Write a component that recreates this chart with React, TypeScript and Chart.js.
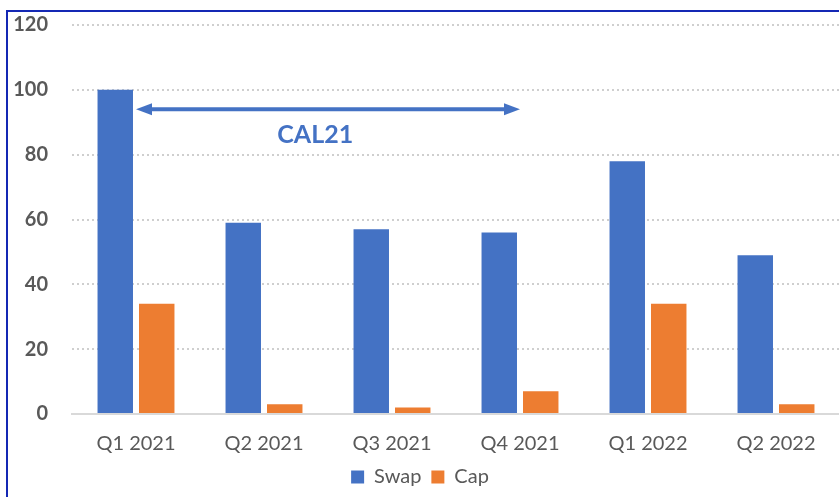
import React, { useEffect, useRef } from "react";
import { Chart, registerables } from "chart.js";

Chart.register(...registerables);

const categories = ["Q1 2021", "Q2 2021", "Q3 2021", "Q4 2021", "Q1 2022", "Q2 2022"];
const swapValues = [100, 59, 57, 56, 78, 49];
const capValues = [34, 3, 2, 7, 34, 3];
const yTicks = [0, 20, 40, 60, 80, 100, 120];
const arrowFrom = 0;
const arrowTo = 3;
const arrowValue = 94;
const labelText = "CAL21";
const labelPos = 1.4;
const labelValue = 86;

const FONT = "Lato, 'Open Sans', sans-serif";
const BLUE = "#4472C4";
const ORANGE = "#ED7D31";
const GREY = "#595959";

const annotationPlugin = {
  id: "cal21",
  afterDatasetsDraw(chart: any) {
    const { ctx, scales } = chart;
    const x = scales.x;
    const y = scales.y;
    const x1 = x.getPixelForValue(arrowFrom);
    const x2 = x.getPixelForValue(arrowTo);
    const yy = y.getPixelForValue(arrowValue);
    const head = 16;
    const hw = 6;
    ctx.save();
    ctx.strokeStyle = BLUE;
    ctx.fillStyle = BLUE;
    ctx.lineWidth = 4;
    ctx.beginPath();
    ctx.moveTo(x1 + head - 2, yy);
    ctx.lineTo(x2 - head + 2, yy);
    ctx.stroke();
    ctx.beginPath();
    ctx.moveTo(x1, yy);
    ctx.lineTo(x1 + head, yy - hw);
    ctx.lineTo(x1 + head, yy + hw);
    ctx.closePath();
    ctx.fill();
    ctx.beginPath();
    ctx.moveTo(x2, yy);
    ctx.lineTo(x2 - head, yy - hw);
    ctx.lineTo(x2 - head, yy + hw);
    ctx.closePath();
    ctx.fill();
    ctx.font = `bold 25px ${FONT}`;
    ctx.textAlign = "center";
    ctx.textBaseline = "middle";
    ctx.fillText(labelText, x.getPixelForValue(labelPos), y.getPixelForValue(labelValue));
    ctx.restore();
  },
};

export default function App() {
  const ref = useRef<HTMLCanvasElement>(null);
  useEffect(() => {
    if (!ref.current) return;
    const chart = new Chart(ref.current, {
      type: "bar",
      data: {
        labels: categories,
        datasets: [
          { label: "Swap", data: swapValues, backgroundColor: BLUE },
          { label: "Cap", data: capValues, backgroundColor: ORANGE },
        ],
      },
      options: {
        responsive: false,
        animation: false,
        layout: { padding: { top: 25, right: 40, left: 0, bottom: 0 } },
        datasets: { bar: { categoryPercentage: 0.648, barPercentage: 0.855 } },
        plugins: {
          legend: {
            position: "bottom",
            align: "center",
            labels: {
              boxWidth: 13,
              boxHeight: 13,
              padding: 10,
              color: GREY,
              font: { family: FONT, size: 20 },
            },
          },
          tooltip: { enabled: false },
        },
        scales: {
          x: {
            grid: { display: false, drawTicks: false },
            border: { display: true, color: "#d9d9d9", width: 2 },
            ticks: { color: GREY, font: { family: FONT, size: 20 }, padding: 18, maxRotation: 0 },
            afterFit: (s: any) => { s.height = 43; },
          },
          y: {
            min: 0,
            max: 120,
            afterBuildTicks: (s: any) => { s.ticks = yTicks.map((v) => ({ value: v })); },
            grid: {
              drawTicks: false,
              color: (c: any) => (c.tick && c.tick.value === 0 ? "rgba(0,0,0,0)" : "#cfcfcf"),
              lineWidth: 2,
            },
            border: { display: false, dash: [2, 3] },
            ticks: { color: GREY, font: { family: FONT, size: 20, weight: "bold" }, padding: 24 },
            afterFit: (s: any) => {
              s.width = 72;
              s.paddingTop = 0;
              s.paddingBottom = 0;
            },
          },
        },
      },
      plugins: [annotationPlugin],
    });
    return () => chart.destroy();
  }, []);
  return (
    <div style={{ position: "fixed", left: 0, top: 0, width: 839, height: 497, overflow: "hidden", background: "#fff" }}>
      <canvas ref={ref} width={880} height={497} style={{ position: "absolute", left: 0, top: 0 }} />
      <div
        style={{
          position: "absolute",
          left: 6,
          top: 10,
          width: 900,
          height: 600,
          borderLeft: "2px solid #1428B4",
          borderTop: "2px solid #1428B4",
          pointerEvents: "none",
        }}
      />
    </div>
  );
}
